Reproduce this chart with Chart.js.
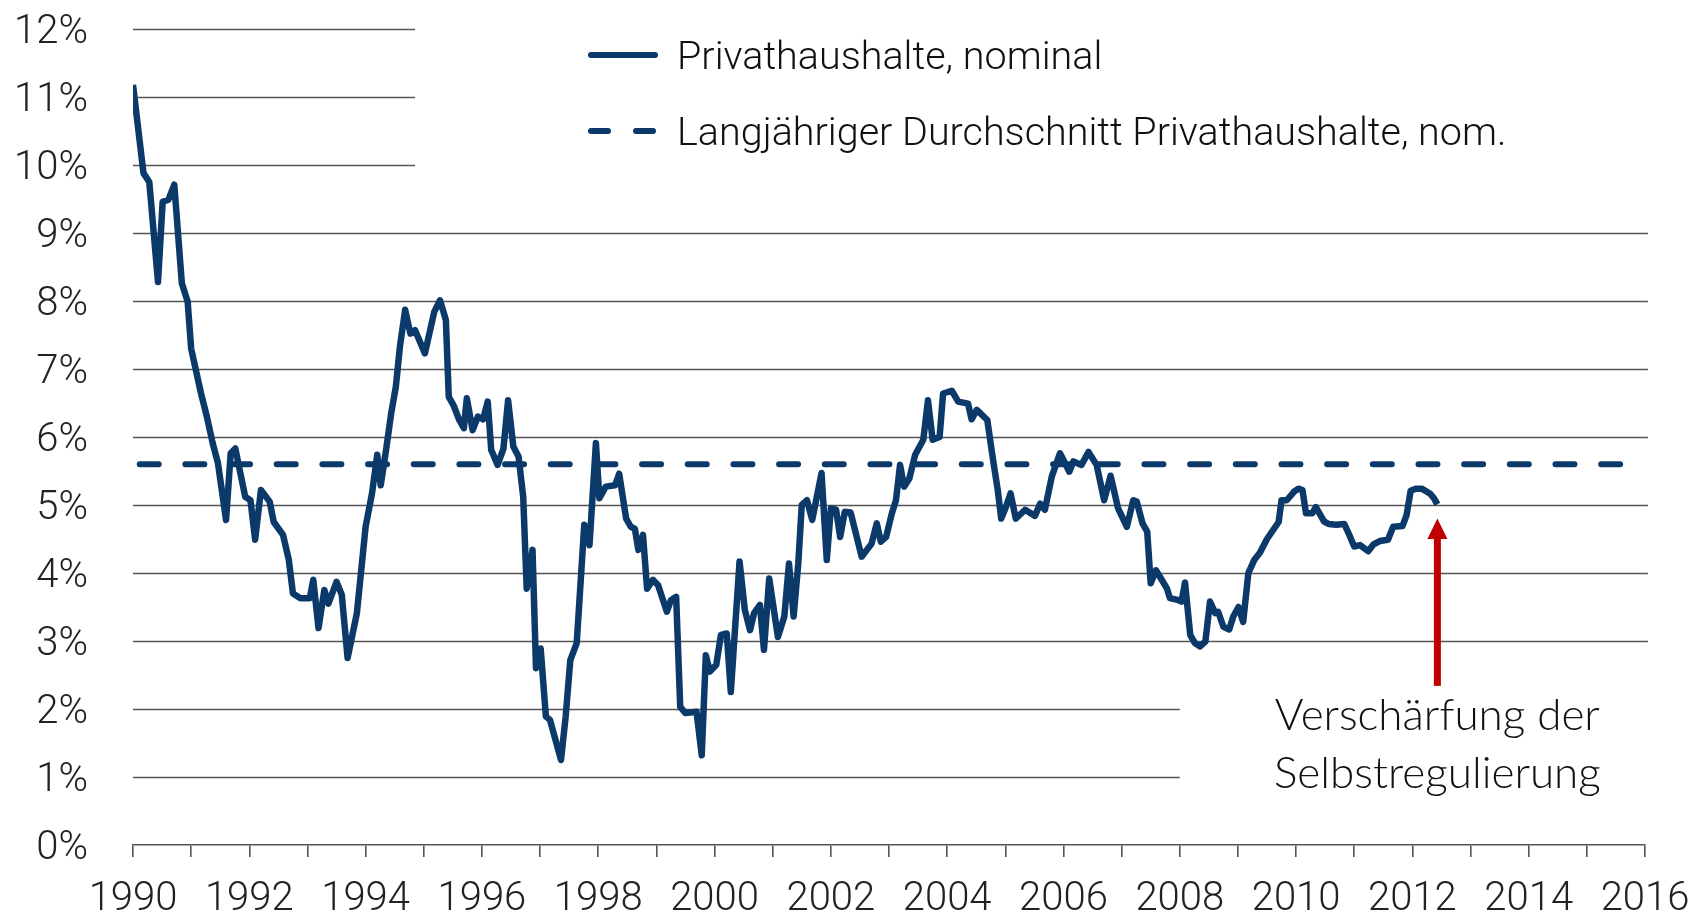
<!DOCTYPE html>
<html>
<head>
<meta charset="utf-8">
<script src="https://cdn.jsdelivr.net/npm/chart.js@4.4.0/dist/chart.umd.min.js"></script>
<style>
  html, body { margin: 0; padding: 0; background: #fff; }
</style>
</head>
<body>
<canvas id="chart" width="1705" height="917"></canvas>
<script>
// Privathaushalte, nominal (decimal year / rate in %)
const years = [
  1990.00, 1990.18, 1990.28, 1990.43, 1990.51, 1990.61, 1990.71, 1990.84, 1990.94, 1991.00,
  1991.17, 1991.27, 1991.37, 1991.46, 1991.60, 1991.68, 1991.76, 1991.93, 1992.02, 1992.10,
  1992.20, 1992.35, 1992.42, 1992.58, 1992.68, 1992.75, 1992.88, 1993.04, 1993.10, 1993.19,
  1993.29, 1993.36, 1993.50, 1993.59, 1993.69, 1993.85, 1994.00, 1994.11, 1994.20, 1994.26,
  1994.36, 1994.44, 1994.52, 1994.59, 1994.68, 1994.77, 1994.85, 1995.02, 1995.18, 1995.28,
  1995.38, 1995.43, 1995.51, 1995.61, 1995.69, 1995.74, 1995.84, 1995.93, 1996.02, 1996.10,
  1996.16, 1996.27, 1996.37, 1996.45, 1996.54, 1996.63, 1996.71, 1996.77, 1996.87, 1996.93,
  1997.01, 1997.10, 1997.17, 1997.36, 1997.44, 1997.52, 1997.63, 1997.76, 1997.85, 1997.96,
  1998.02, 1998.13, 1998.29, 1998.36, 1998.48, 1998.56, 1998.63, 1998.69, 1998.77, 1998.84,
  1998.94, 1999.03, 1999.18, 1999.25, 1999.34, 1999.41, 1999.50, 1999.69, 1999.78, 1999.85,
  1999.92, 2000.03, 2000.11, 2000.21, 2000.28, 2000.43, 2000.52, 2000.61, 2000.68, 2000.78,
  2000.85, 2000.94, 2001.09, 2001.20, 2001.28, 2001.36, 2001.44, 2001.50, 2001.59, 2001.68,
  2001.84, 2001.93, 2002.00, 2002.09, 2002.16, 2002.24, 2002.34, 2002.53, 2002.62, 2002.70,
  2002.79, 2002.86, 2002.95, 2003.05, 2003.12, 2003.19, 2003.26, 2003.35, 2003.45, 2003.59,
  2003.67, 2003.75, 2003.87, 2003.93, 2004.08, 2004.19, 2004.36, 2004.42, 2004.51, 2004.69,
  2004.79, 2004.87, 2004.93, 2005.01, 2005.09, 2005.18, 2005.34, 2005.51, 2005.60, 2005.68,
  2005.80, 2005.94, 2006.03, 2006.10, 2006.17, 2006.31, 2006.43, 2006.57, 2006.70, 2006.81,
  2006.94, 2007.09, 2007.20, 2007.26, 2007.36, 2007.44, 2007.50, 2007.59, 2007.69, 2007.78,
  2007.83, 2007.98, 2008.03, 2008.09, 2008.18, 2008.26, 2008.35, 2008.44, 2008.52, 2008.61,
  2008.66, 2008.75, 2008.85, 2008.92, 2009.01, 2009.09, 2009.18, 2009.28, 2009.38, 2009.50,
  2009.70, 2009.75, 2009.84, 2009.97, 2010.04, 2010.11, 2010.17, 2010.28, 2010.34, 2010.48,
  2010.56, 2010.69, 2010.83, 2010.91, 2011.00, 2011.10, 2011.24, 2011.33, 2011.44, 2011.58,
  2011.67, 2011.83, 2011.90, 2011.97, 2012.06, 2012.16, 2012.30, 2012.37, 2012.43
];
const rates = [
  11.18, 9.88, 9.75, 8.28, 9.46, 9.49, 9.71, 8.26, 7.99, 7.30,
  6.64, 6.30, 5.91, 5.62, 4.78, 5.76, 5.83, 5.12, 5.07, 4.49,
  5.22, 5.05, 4.75, 4.56, 4.19, 3.70, 3.63, 3.63, 3.90, 3.19,
  3.75, 3.55, 3.87, 3.68, 2.75, 3.41, 4.68, 5.17, 5.74, 5.29,
  5.86, 6.35, 6.74, 7.33, 7.87, 7.52, 7.57, 7.23, 7.84, 8.01,
  7.72, 6.59, 6.47, 6.25, 6.13, 6.57, 6.10, 6.30, 6.26, 6.52,
  5.81, 5.59, 5.83, 6.54, 5.86, 5.71, 5.12, 3.77, 4.34, 2.60,
  2.89, 1.89, 1.84, 1.25, 1.89, 2.72, 2.97, 4.71, 4.41, 5.91,
  5.10, 5.27, 5.29, 5.46, 4.80, 4.68, 4.65, 4.34, 4.56, 3.77,
  3.90, 3.82, 3.43, 3.60, 3.65, 2.03, 1.94, 1.96, 1.32, 2.79,
  2.55, 2.65, 3.09, 3.11, 2.25, 4.17, 3.46, 3.16, 3.41, 3.53,
  2.87, 3.92, 3.06, 3.36, 4.14, 3.36, 4.14, 5.00, 5.07, 4.78,
  5.47, 4.19, 4.95, 4.93, 4.53, 4.90, 4.89, 4.24, 4.34, 4.43,
  4.73, 4.46, 4.53, 4.88, 5.07, 5.59, 5.27, 5.39, 5.74, 5.96,
  6.54, 5.96, 6.00, 6.64, 6.68, 6.52, 6.49, 6.26, 6.40, 6.25,
  5.66, 5.22, 4.80, 4.97, 5.17, 4.80, 4.93, 4.84, 5.02, 4.93,
  5.42, 5.76, 5.61, 5.49, 5.64, 5.59, 5.78, 5.59, 5.07, 5.43,
  4.95, 4.68, 5.07, 5.05, 4.73, 4.61, 3.85, 4.04, 3.90, 3.77,
  3.63, 3.60, 3.58, 3.86, 3.09, 2.97, 2.92, 2.99, 3.58, 3.41,
  3.43, 3.21, 3.17, 3.36, 3.50, 3.28, 4.00, 4.19, 4.30, 4.50,
  4.75, 5.07, 5.07, 5.20, 5.24, 5.22, 4.88, 4.88, 4.97, 4.76,
  4.72, 4.71, 4.72, 4.57, 4.39, 4.41, 4.32, 4.42, 4.47, 4.49,
  4.68, 4.69, 4.85, 5.21, 5.24, 5.24, 5.17, 5.10, 5.01
];

// Langjähriger Durchschnitt
const avgYears = [1990.0, 2015.59];
const avgRates = [5.6, 5.6];

const yTickValues = [0, 1, 2, 3, 4, 5, 6, 7, 8, 9, 10, 11, 12];
const xLabelYears = [1990, 1992, 1994, 1996, 1998, 2000, 2002, 2004, 2006, 2008, 2010, 2012, 2014, 2016];

const seriesLabels = ["Privathaushalte, nominal", "Langjähriger Durchschnitt Privathaushalte, nom."];
const noteLines = ["Verschärfung der", "Selbstregulierung"];
const noteYear = 2012.43;

const NAVY = "#0b3a6a";
const GRID = "#555555";
const AXIS_FAMILY = "Roboto, 'Liberation Sans', sans-serif";

// horizontal grid lines, shortened where the legend and the note sit
const gridLines = {
  id: "gridLines",
  beforeDatasetsDraw(chart) {
    const { ctx, scales: { x, y } } = chart;
    ctx.save();
    ctx.strokeStyle = GRID;
    ctx.lineWidth = 1.6;
    yTickValues.forEach(v => {
      if (v === 0) return;
      let end = 2016.05;
      if (v >= 10) end = 1994.85;
      if (v <= 2) end = 2008.0;
      const py = Math.round(y.getPixelForValue(v)) + 0.5;
      ctx.beginPath();
      ctx.moveTo(x.getPixelForValue(1990), py);
      ctx.lineTo(x.getPixelForValue(end), py);
      ctx.stroke();
    });
    ctx.restore();
  }
};

const extras = {
  id: "extras",
  afterDraw(chart) {
    const { ctx, scales: { x, y } } = chart;
    ctx.save();

    // legend
    const lx = 591, lw = 64, tx = 677;
    const rows = [55, 131];
    ctx.strokeStyle = NAVY;
    ctx.lineWidth = 6;
    ctx.lineCap = "round";
    ctx.setLineDash([]);
    ctx.beginPath();
    ctx.moveTo(lx, rows[0]);
    ctx.lineTo(lx + lw, rows[0]);
    ctx.stroke();
    ctx.setLineDash([17, 28]);
    ctx.beginPath();
    ctx.moveTo(lx, rows[1]);
    ctx.lineTo(lx + lw, rows[1]);
    ctx.stroke();
    ctx.setLineDash([]);
    ctx.fillStyle = "#111";
    ctx.font = "300 39.5px " + AXIS_FAMILY;
    ctx.textAlign = "left";
    ctx.textBaseline = "alphabetic";
    ctx.fillText(seriesLabels[0], tx, rows[0] + 14);
    ctx.fillText(seriesLabels[1], tx, rows[1] + 14);

    // red arrow
    const ax = x.getPixelForValue(noteYear);
    const tip = y.getPixelForValue(4.80);
    const base = y.getPixelForValue(4.50);
    const bottom = y.getPixelForValue(2.34);
    ctx.fillStyle = "#c00000";
    ctx.fillRect(ax - 3.5, base - 1, 7, bottom - base + 1);
    ctx.beginPath();
    ctx.moveTo(ax, tip);
    ctx.lineTo(ax + 10, base);
    ctx.lineTo(ax - 10, base);
    ctx.closePath();
    ctx.fill();

    // note text
    ctx.fillStyle = "#111";
    ctx.font = "300 44px Lato, 'Open Sans', sans-serif";
    ctx.textAlign = "center";
    ctx.fillText(noteLines[0], ax, 730);
    ctx.fillText(noteLines[1], ax, 788);
    ctx.restore();
  }
};

new Chart(document.getElementById("chart"), {
  type: "line",
  data: {
    datasets: [
      {
        label: seriesLabels[0],
        data: years.map((yr, i) => ({ x: yr, y: rates[i] })),
        borderColor: NAVY,
        borderWidth: 6.5,
        borderJoinStyle: "round",
        pointRadius: 0,
        tension: 0,
        fill: false
      },
      {
        label: seriesLabels[1],
        data: avgYears.map((yr, i) => ({ x: yr, y: avgRates[i] })),
        borderColor: NAVY,
        borderWidth: 6,
        borderCapStyle: "round",
        borderDash: [19, 26.67],
        borderDashOffset: 38.97,
        pointRadius: 0,
        fill: false
      }
    ]
  },
  options: {
    responsive: false,
    animation: false,
    devicePixelRatio: 1,
    layout: { padding: { top: 29, right: 60, left: 0, bottom: 0 } },
    plugins: {
      legend: { display: false },
      tooltip: { enabled: false }
    },
    scales: {
      x: {
        type: "linear",
        min: 1990,
        max: 2016,
        afterFit: s => {
          s.height = 72;
          s.paddingLeft = 40;
          s.paddingRight = 40;
        },
        afterBuildTicks: s => {
          s.ticks = [];
          for (let yr = 1990; yr <= 2016; yr++) s.ticks.push({ value: yr });
        },
        ticks: {
          autoSkip: false,
          maxRotation: 0,
          padding: 19,
          color: "#222",
          font: { family: AXIS_FAMILY, size: 40, weight: "300" },
          callback: v => (xLabelYears.includes(v) ? String(v) : "")
        },
        grid: { drawOnChartArea: false, drawTicks: true, tickLength: 12, color: GRID, lineWidth: 1.6 },
        border: { display: true, color: GRID, width: 1.6 }
      },
      y: {
        min: 0,
        max: 12,
        afterFit: s => { s.width = 133; },
        afterBuildTicks: s => { s.ticks = yTickValues.map(v => ({ value: v })); },
        ticks: {
          padding: 0,
          labelOffset: 4,
          color: "#222",
          font: { family: AXIS_FAMILY, size: 40, weight: "300" },
          callback: v => v + "%"
        },
        grid: { display: false, drawTicks: true, tickLength: 45 },
        border: { display: false }
      }
    }
  },
  plugins: [gridLines, extras]
});
</script>
</body>
</html>
